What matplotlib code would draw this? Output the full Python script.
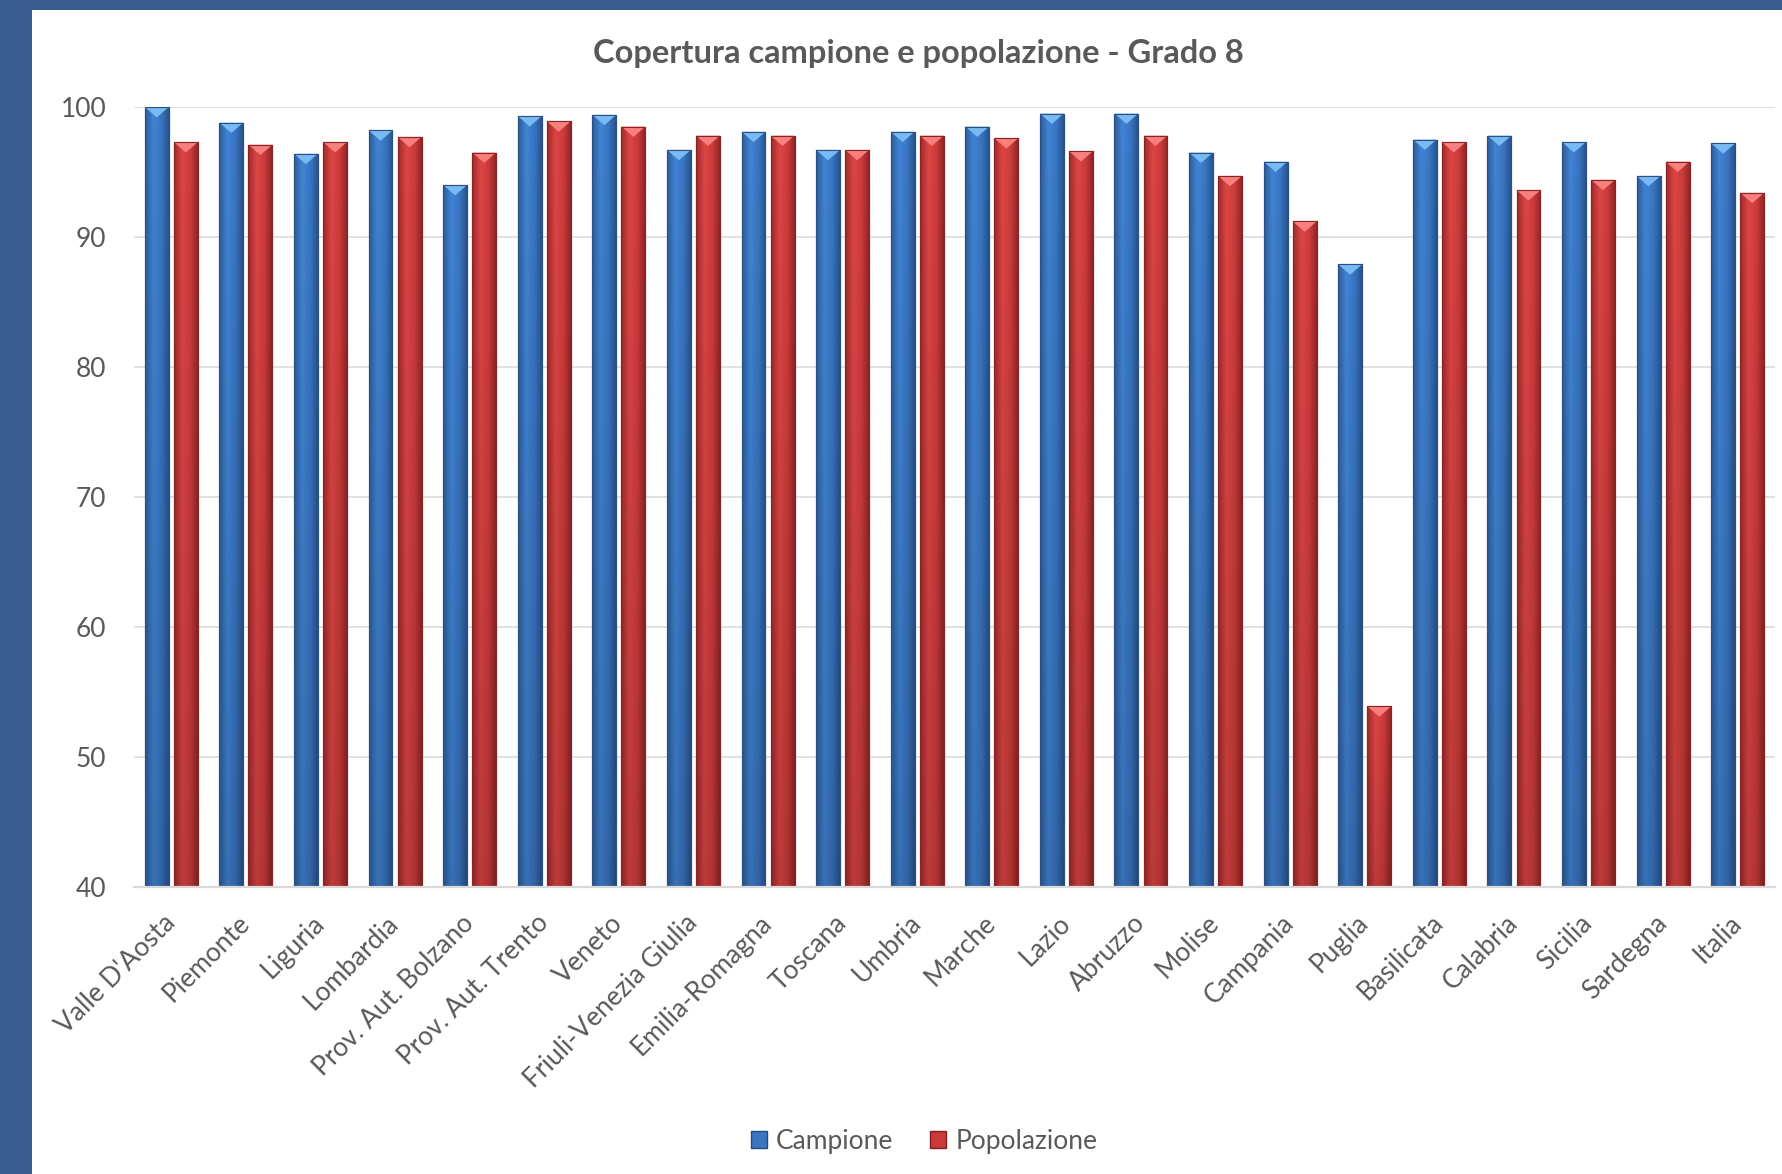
import numpy as np
import matplotlib.pyplot as plt
from matplotlib.patches import Patch, Polygon, Rectangle
from matplotlib.colors import to_rgb

# Dati
regioni = ["Valle D'Aosta", "Piemonte", "Liguria", "Lombardia", "Prov. Aut. Bolzano",
           "Prov. Aut. Trento", "Veneto", "Friuli-Venezia Giulia", "Emilia-Romagna",
           "Toscana", "Umbria", "Marche", "Lazio", "Abruzzo", "Molise", "Campania",
           "Puglia", "Basilicata", "Calabria", "Sicilia", "Sardegna", "Italia"]
campione = [100.0, 98.8, 96.4, 98.2, 94.0, 99.3, 99.4, 96.7, 98.1, 96.7, 98.1,
            98.5, 99.5, 99.5, 96.5, 95.8, 87.9, 97.5, 97.8, 97.3, 94.7, 97.2]
popolazione = [97.3, 97.1, 97.3, 97.7, 96.5, 98.9, 98.5, 97.8, 97.8, 96.7, 97.8,
               97.6, 96.6, 97.8, 94.7, 91.2, 53.9, 97.3, 93.6, 94.4, 95.8, 93.4]
yticks = [40, 50, 60, 70, 80, 90, 100]

plt.rcParams['font.family'] = ['Lato', 'DejaVu Sans']
testo = '#595959'

fig = plt.figure(figsize=(17.82, 11.74), dpi=100)
fig.patch.set_facecolor('#375e8f')
# area bianca del grafico (bordo blu a sinistra e in alto)
fig.patches.append(Rectangle((32 / 1782, 0), 1, 1 - 10 / 1174, transform=fig.transFigure,
                             facecolor='white', edgecolor='none', zorder=-1))

ax = fig.add_axes([134 / 1782, 1 - 887 / 1174, 1641 / 1782, 780 / 1174])
ax.set_facecolor('white')
ax.set_zorder(1)

x = np.arange(len(regioni))
w = 0.32
off = 0.195

stili = {
    'blu': dict(stops=['#2d5d99', '#4184d4', '#3874c0', '#29548f'], top='#78baf4', edge='#2a4f80'),
    'rosso': dict(stops=['#9e2a2a', '#de4545', '#cb3b3b', '#942626'], top='#f77f7c', edge='#8a2323'),
}


def gradiente(stops, nx=40, ny=60):
    cols = np.array([to_rgb(c) for c in stops])
    pos = np.array([0.0, 0.35, 0.7, 1.0])
    t = np.linspace(0, 1, nx)
    riga = np.stack([np.interp(t, pos, cols[:, k]) for k in range(3)], axis=1)
    v = np.linspace(1.0, 0.86, ny)[:, None, None]
    return np.clip(riga[None, :, :] * v, 0, 1)


tri_h = 0.8  # altezza del triangolo in unità dati
for vals, pos, nome in [(campione, x - off, 'blu'), (popolazione, x + off, 'rosso')]:
    st = stili[nome]
    bars = ax.bar(pos, np.array(vals) - 40, width=w, bottom=40,
                  color=st['stops'][1], edgecolor=st['edge'], linewidth=0.8, zorder=2)
    img = gradiente(st['stops'])
    for b in bars:
        bx, by, bw, bh = b.get_x(), b.get_y(), b.get_width(), b.get_height()
        im = ax.imshow(img, extent=(bx, bx + bw, by, by + bh), aspect='auto',
                       interpolation='bilinear', zorder=2.5)
        im.set_clip_path(b)
        tri = Polygon([(bx, by + bh), (bx + bw, by + bh), (bx + bw / 2, by + bh - tri_h)],
                      closed=True, facecolor=st['top'], edgecolor='none', zorder=3)
        ax.add_patch(tri)
        ax.add_patch(Rectangle((bx, by), bw, bh, facecolor='none', edgecolor=st['edge'],
                               linewidth=0.8, zorder=3.5))

ax.set_xlim(-0.5, len(regioni) - 0.5)
ax.set_ylim(40, 100)
ax.set_yticks(yticks)
ax.grid(axis='y', color='#dcdcdc', linewidth=1.2, zorder=0)
ax.set_axisbelow(True)
for s in ['top', 'right', 'left']:
    ax.spines[s].set_visible(False)
ax.spines['bottom'].set_color('#d9d9d9')
ax.spines['bottom'].set_linewidth(1.6)
ax.spines['bottom'].set_zorder(4)

ax.set_xticks(x)
ax.set_xticklabels(regioni, rotation=45, ha='right', va='center', rotation_mode='anchor')
ax.tick_params(axis='x', length=0, pad=23, labelsize=19, labelcolor=testo)
ax.tick_params(axis='y', length=0, pad=20, labelsize=19, labelcolor=testo)

fig.text(918 / 1782, 1 - 53 / 1174, 'Copertura campione e popolazione - Grado 8',
         ha='center', va='center', fontsize=23.5, fontweight='bold', color=testo)

handles = [Patch(facecolor='#3a75c0', edgecolor='#25497a', label='Campione'),
           Patch(facecolor='#c93a3a', edgecolor='#7e2020', label='Popolazione')]
leg = fig.legend(handles=handles, loc='center', bbox_to_anchor=(924 / 1782, 33 / 1174),
                 ncol=2, frameon=False, fontsize=19, handlelength=0.6, handleheight=0.6,
                 handletextpad=0.35, columnspacing=1.4)
for t in leg.get_texts():
    t.set_color(testo)

fig.savefig('out.png', dpi=100, facecolor=fig.get_facecolor())
